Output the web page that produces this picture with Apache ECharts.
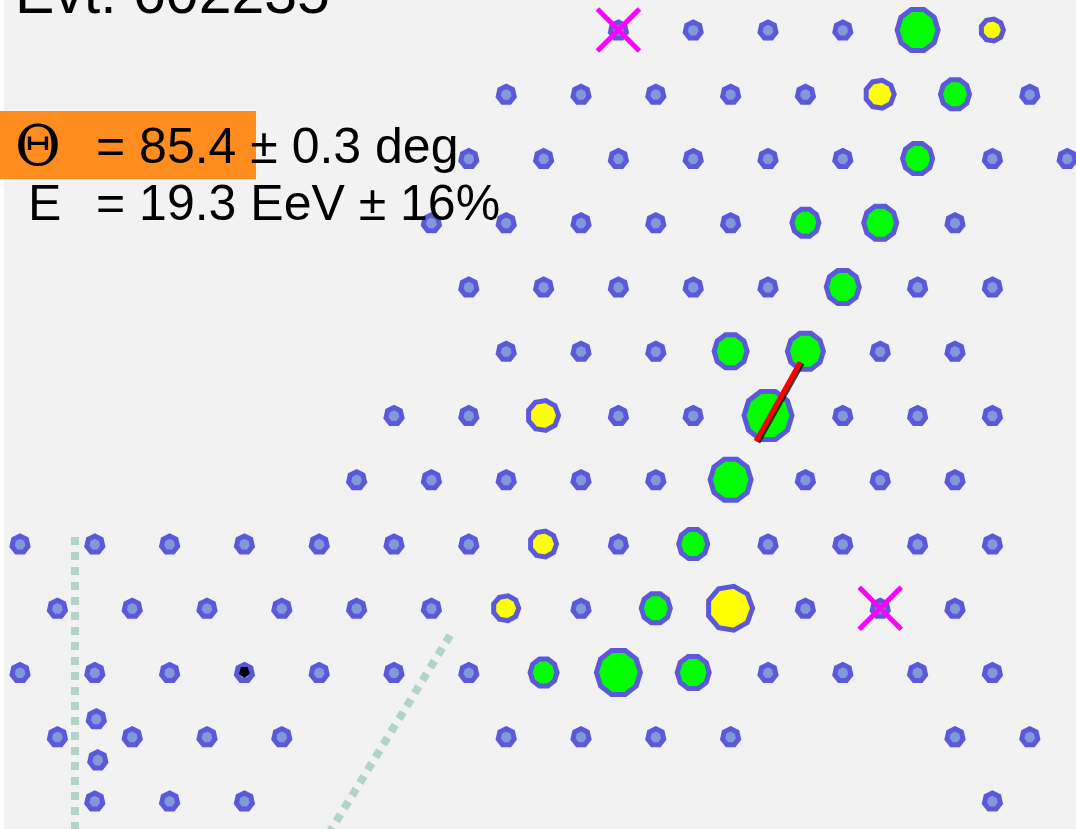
<!DOCTYPE html>
<html>
<head>
<meta charset="utf-8">
<title>Evt 602235</title>
<script src="https://cdn.jsdelivr.net/npm/echarts@6/dist/echarts.min.js"></script>
<style>
  html, body { margin: 0; padding: 0; background: #ffffff; }
  #main { width: 1076px; height: 829px; }
</style>
</head>
<body>
<div id="main"></div>
<script>
// station grid: row index (top to bottom), column index in station spacings
var stationCols = [
  [8, 9, 10, 11, 12, 13],
  [6.5, 7.5, 8.5, 9.5, 10.5, 11.5, 12.5, 13.5],
  [6, 7, 8, 9, 10, 11, 12, 13, 14],
  [5.5, 6.5, 7.5, 8.5, 9.5, 10.5, 11.5, 12.5],
  [6, 7, 8, 9, 10, 11, 12, 13],
  [6.5, 7.5, 8.5, 9.5, 10.5, 11.5, 12.5],
  [5, 6, 7, 8, 9, 10, 11, 12, 13],
  [4.5, 5.5, 6.5, 7.5, 8.5, 9.5, 10.5, 11.5, 12.5],
  [0, 1, 2, 3, 4, 5, 6, 7, 8, 9, 10, 11, 12, 13],
  [0.5, 1.5, 2.5, 3.5, 4.5, 5.5, 6.5, 7.5, 8.5, 9.5, 10.5, 11.5, 12.5],
  [0, 1, 2, 3, 4, 5, 6, 7, 8, 9, 10, 11, 12, 13],
  [0.5, 1.5, 2.5, 3.5, 6.5, 7.5, 8.5, 9.5, 12.5, 13.5],
  [1, 2, 3, 13]
];
// stations off the regular grid [col, row]
var extraStations = [[1.02, 10.72], [1.04, 11.36]];

// triggered stations [col, row, diameter]
var greenHits = [
  [12, 0, 46], [12.5, 1, 34], [12, 2, 35], [10.5, 3, 32], [11.5, 3, 38],
  [11, 4, 38], [9.5, 5, 38], [10.5, 5, 41], [10, 6, 53], [9.5, 7, 46],
  [9, 8, 34], [8.5, 9, 34], [7, 10, 32], [8, 10, 49], [9, 10, 37]
];
var yellowHits = [
  [13, 0, 27], [11.5, 1, 33], [7, 6, 35], [7, 8, 31], [6.5, 9, 30], [9.5, 9, 49]
];
var blackHits = [[3, 10, 11]];
var crossMarks = [[8, 0], [11.5, 9]];

// shower axis and dashed boundaries [col, row]
var showerAxis = [[10.43, 5.17], [9.84, 6.4]];
var dashLines = [
  [[0.735, 7.89], [0.735, 12.6]],
  [[5.75, 9.42], [4.08, 12.6]]
];

var evtLabel = 'Evt: 602235';
var thetaLabel = '= 85.4 \u00b1 0.3 deg';
var energyLabel = '= 19.3 EeV \u00b1 16%';

function polygon(n, rot) {
  var pts = [];
  for (var i = 0; i < n; i++) {
    var a = rot + i * 2 * Math.PI / n;
    pts.push((50 + 50 * Math.cos(a)).toFixed(1) + ',' + (50 + 50 * Math.sin(a)).toFixed(1));
  }
  return 'path://M' + pts.join('L') + 'Z';
}

var stations = [];
stationCols.forEach(function (cols, row) {
  cols.forEach(function (c) { stations.push([c, row]); });
});
stations = stations.concat(extraStations);

var chart = echarts.init(document.getElementById('main'));

var option = {
  backgroundColor: '#f2f2f2',
  animation: false,
  grid: { left: 0, right: 0, top: 0, bottom: 0 },
  xAxis: { type: 'value', min: -20 / 74.8, max: 1056 / 74.8, show: false },
  yAxis: { type: 'value', min: -30 / 64.25, max: 799 / 64.25, inverse: true, show: false },
  graphic: [
    { type: 'rect', left: 0, top: 0, shape: { width: 4, height: 829 }, style: { fill: '#ffffff' }, z: 0 },
    { type: 'rect', left: 0, top: 111, shape: { width: 256, height: 68 }, style: { fill: '#fe8c1e' }, z: 50 },
    { type: 'text', left: 15, top: -33, z: 60,
      style: { text: evtLabel, font: '59px "Liberation Sans", Arial, sans-serif', fill: '#000' } },
    { type: 'text', left: 15, top: 122, z: 60,
      style: { text: '\u0398', font: '56px "DejaVu Serif", "Liberation Serif", serif', fill: '#000' } },
    { type: 'text', left: 96, top: 124, z: 60,
      style: { text: thetaLabel, font: '50px "Liberation Sans", Arial, sans-serif', fill: '#000' } },
    { type: 'text', left: 28, top: 181, z: 60,
      style: { text: 'E', font: '50px "Liberation Sans", Arial, sans-serif', fill: '#000' } },
    { type: 'text', left: 96, top: 181, z: 60,
      style: { text: energyLabel, font: '50px "Liberation Sans", Arial, sans-serif', fill: '#000' } }
  ],
  series: [
    {
      type: 'lines',
      coordinateSystem: 'cartesian2d',
      z: 1,
      silent: true,
      lineStyle: { color: '#b0d4c6', width: 8, opacity: 1, type: [8, 7] },
      data: dashLines.map(function (l) { return { coords: l }; })
    },
    {
      type: 'scatter',
      z: 3,
      symbol: polygon(7, -Math.PI / 2),
      symbolSize: 16,
      itemStyle: { color: '#7f9ad6', borderColor: '#5b59da', borderWidth: 5, opacity: 1 },
      data: stations
    },
    {
      type: 'scatter',
      z: 4,
      symbol: polygon(10, 0),
      symbolSize: function (d) { return d[2] - 5; },
      itemStyle: { color: '#00ff00', borderColor: '#5b59da', borderWidth: 5, opacity: 1 },
      data: greenHits
    },
    {
      type: 'scatter',
      z: 4,
      symbol: polygon(9, 0),
      symbolSize: function (d) { return d[2] - 5; },
      itemStyle: { color: '#ffff00', borderColor: '#5b59da', borderWidth: 5, opacity: 1 },
      data: yellowHits
    },
    {
      type: 'scatter',
      z: 5,
      symbol: polygon(5, 0.3),
      symbolSize: function (d) { return d[2]; },
      itemStyle: { color: '#000000', opacity: 1 },
      data: blackHits
    },
    {
      type: 'scatter',
      z: 6,
      symbol: 'path://M0,0L100,100M100,0L0,100',
      symbolSize: 42,
      itemStyle: { color: 'none', borderColor: '#ff00ff', borderWidth: 5, opacity: 1 },
      data: crossMarks
    },
    {
      type: 'lines',
      coordinateSystem: 'cartesian2d',
      z: 7,
      silent: true,
      symbol: ['none', 'none'],
      lineStyle: {
        color: '#ff0000', width: 5, opacity: 1,
        shadowColor: 'rgba(0,0,0,0.75)', shadowBlur: 0, shadowOffsetX: 2, shadowOffsetY: 1
      },
      data: [{ coords: showerAxis }]
    }
  ]
};

chart.setOption(option);
</script>
</body>
</html>
